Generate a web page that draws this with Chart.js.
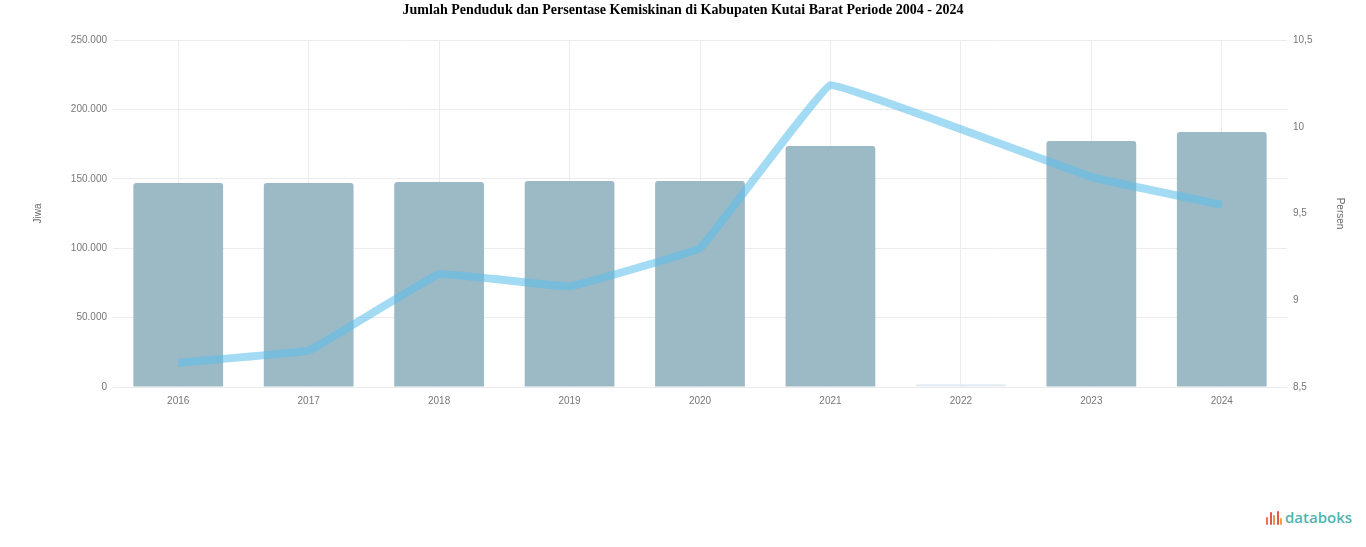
<!DOCTYPE html>
<html>
<head>
<meta charset="utf-8">
<script src="https://cdn.jsdelivr.net/npm/chart.js@4.4.1/dist/chart.umd.min.js"></script>
<style>
  html, body { margin: 0; padding: 0; background: #fff; width: 1366px; height: 547px; overflow: hidden; }
  #wrap { position: absolute; left: 0; top: 0; width: 1366px; height: 420px; }
  #logo { position: absolute; left: 1266px; top: 507px; font-family: "Open Sans", "Noto Sans", sans-serif; font-size: 15px; font-weight: 600; color: #4fb5b0; display: flex; align-items: center; }
  #logo .ic { display: inline-flex; align-items: flex-end; height: 16px; margin-right: 3px; gap: 1.5px; }
  #logo .ic span { display: inline-block; width: 2px; border-radius: 1px; }
</style>
</head>
<body>
<div id="wrap"><canvas id="c"></canvas></div>
<div id="logo"><span class="ic"><span style="height:8px;background:#f0714f"></span><span style="height:13px;background:#e9534a"></span><span style="height:10px;background:#f0934f"></span><span style="height:14px;background:#e9534a"></span><span style="height:7px;background:#f0a04f"></span></span>databoks</div>
<script>
const categories = ["2016", "2017", "2018", "2019", "2020", "2021", "2022", "2023", "2024"];
const penduduk = [147000, 147000, 147700, 148400, 148400, 173600, 2000, 177200, 183700];
const kemiskinan = [8.64, 8.71, 9.15, 9.08, 9.30, 10.24, null, 9.71, 9.55];
const leftTicks = [0, 50000, 100000, 150000, 200000, 250000];
const rightTicks = [8.5, 9, 9.5, 10, 10.5];
const titleText = "Jumlah Penduduk dan Persentase Kemiskinan di Kabupaten Kutai Barat Periode 2004 - 2024";

const barColors = penduduk.map(v => v < 10000 ? '#e3ecf0' : '#9bbac6');

new Chart(document.getElementById('c'), {
  data: {
    labels: categories,
    datasets: [
      {
        type: 'line',
        label: 'Persen',
        data: kemiskinan,
        yAxisID: 'y1',
        borderColor: 'rgba(90,190,235,0.55)',
        borderWidth: 8,
        pointRadius: 0,
        tension: 0.05,
        spanGaps: true,
        borderJoinStyle: 'round',
        order: 0
      },
      {
        type: 'bar',
        label: 'Jiwa',
        data: penduduk,
        yAxisID: 'y',
        backgroundColor: barColors,
        categoryPercentage: 0.8,
        barPercentage: 0.86,
        borderRadius: 3,
        order: 1
      }
    ]
  },
  options: {
    responsive: true,
    maintainAspectRatio: false,
    animation: false,
    layout: { padding: { left: 20, right: 20, top: 0, bottom: 0 } },
    plugins: {
      legend: { display: false },
      tooltip: { enabled: false },
      title: {
        display: true,
        text: titleText,
        color: '#000',
        font: { family: 'Liberation Serif', size: 14, weight: 'bold', lineHeight: 1.2 },
        padding: { top: 2, bottom: 21.2 }
      }
    },
    scales: {
      x: {
        grid: { color: '#ececec', drawTicks: false, offset: false },
        border: { display: false },
        ticks: { color: '#777', font: { family: 'Liberation Sans', size: 10 }, padding: 8 },
        afterFit: s => { s.height = 33; }
      },
      y: {
        position: 'left',
        min: 0, max: 250000,
        afterBuildTicks: s => { s.ticks = leftTicks.map(v => ({ value: v })); },
        grid: { color: '#ececec', drawTicks: false },
        border: { display: false },
        ticks: {
          color: '#777', font: { family: 'Liberation Sans', size: 10 }, padding: 6,
          callback: v => v.toLocaleString('id-ID')
        },
        title: { display: true, text: 'Jiwa', color: '#666', font: { family: 'Liberation Sans', size: 10 }, padding: { top: 12, bottom: 0 } },
        afterFit: s => { s.width = 93; }
      },
      y1: {
        position: 'right',
        min: 8.5, max: 10.5,
        afterBuildTicks: s => { s.ticks = rightTicks.map(v => ({ value: v })); },
        grid: { display: false, drawTicks: false },
        border: { display: false },
        ticks: {
          color: '#777', font: { family: 'Liberation Sans', size: 10 }, padding: 6,
          callback: v => v.toLocaleString('id-ID', { maximumFractionDigits: 1 })
        },
        title: { display: true, text: 'Persen', color: '#666', font: { family: 'Liberation Sans', size: 10 }, padding: 0 },
        afterFit: s => { s.width = 59; }
      }
    }
  }
});
</script>
</body>
</html>
